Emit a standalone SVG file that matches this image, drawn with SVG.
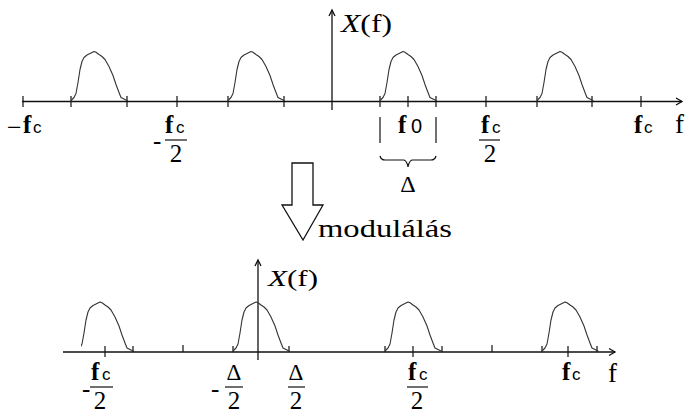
<svg xmlns="http://www.w3.org/2000/svg" width="685" height="414" viewBox="0 0 685 414">
<style>
.ax{stroke:#111;stroke-width:1.3;fill:none}
.tk{stroke:#111;stroke-width:1.2;fill:none}
.bump{stroke:#333;stroke-width:1.1;fill:none;stroke-linejoin:round;stroke-linecap:round}
.t{font-family:"Times New Roman","Liberation Serif",serif;fill:#000}
.fb{font-weight:bold;font-size:25px}
.fr{font-size:25px}
.sub{font-family:Arial,"Liberation Sans",sans-serif;font-size:17px;fill:#000}
.sub0{font-family:Arial,"Liberation Sans",sans-serif;font-size:20px;fill:#000}
</style>
<defs>
<path id="bump" d="M0,0 L1,-2 L3,-4 L5,-8 L7,-19 L9,-32 L11,-40 L13,-44 L16,-46.5 L19,-48 L21,-49 L23,-50 L25,-49.2 L28,-47 L31,-45 L34,-42 L38,-35 L42,-26 L45,-17 L48,-9 L50,-4 L53,-2.5 L56,-1"/>
<clipPath id="clipB1"><rect x="81" y="280" width="80" height="80"/></clipPath>
</defs>

<g id="top-plot">
  <g id="top-axes">
    <line class="ax" x1="22" y1="101.5" x2="682" y2="101.5"/>
    <polyline class="ax" points="676,98 682,101.5 676,105"/>
    <line class="ax" x1="332" y1="110" x2="332" y2="10"/>
    <polyline class="ax" points="329,16 332,10 335,16"/>
    <path class="tk" d="M23,96V107M71,96V107M127,96V107M177,96V107M228,96V107M284,96V107M380,96V107M408,96V107M436,96V107M486,96V107M537,96V107M592,96V107M641,96V107"/>
  </g>
  <g id="top-bumps">
    <use href="#bump" class="bump" transform="translate(71,101.5)"/>
    <use href="#bump" class="bump" transform="translate(228,101.5)"/>
    <use href="#bump" class="bump" transform="translate(380,101.5)"/>
    <use href="#bump" class="bump" transform="translate(537,101.5)"/>
  </g>
  <g id="top-labels">
    <text class="t" x="341" y="32" font-size="25" textLength="51" lengthAdjust="spacingAndGlyphs"><tspan font-style="italic">X</tspan>(f)</text>
    <text class="t" x="7" y="136" font-size="26">−</text>
    <text class="t fb" x="23" y="133">f</text><text class="sub" x="33" y="133">c</text>
    <text class="t fr" x="153" y="149">-</text>
    <text class="t fb" x="165" y="133">f</text><text class="sub" x="176" y="133">c</text>
    <line class="tk" x1="165" y1="140" x2="187" y2="140"/>
    <text class="t fr" x="176" y="162" text-anchor="middle">2</text>
    <text class="t fb" x="398" y="133">f</text><text class="sub0" x="411" y="133">0</text>
    <text class="t fb" x="481" y="133">f</text><text class="sub" x="492" y="133">c</text>
    <line class="tk" x1="479" y1="140" x2="500" y2="140"/>
    <text class="t fr" x="490" y="162" text-anchor="middle">2</text>
    <text class="t fb" x="634" y="133">f</text><text class="sub" x="644" y="133">c</text>
    <text class="t" x="675" y="133" font-size="27">f</text>
  </g>
  <g id="delta-brace">
    <line class="tk" x1="380" y1="117" x2="380" y2="143"/>
    <line class="tk" x1="436" y1="117" x2="436" y2="143"/>
    <path class="tk" d="M380,156 Q381,160 385,160 L404,160 Q407,161 408,167 Q409,161 412,160 L431,160 Q435,160 436,156"/>
    <text class="t" x="408" y="192" font-size="24" text-anchor="middle">Δ</text>
  </g>
</g>

<g id="modulation">
  <polygon class="ax" points="292,163 313,163 313,205 323,205 303,240 282,205 292,205"/>
  <text class="t" x="318" y="237" font-size="26" textLength="134" lengthAdjust="spacingAndGlyphs">modulálás</text>
</g>

<g id="bottom-plot">
  <g id="bottom-axes">
    <line class="ax" x1="63" y1="352" x2="615" y2="352"/>
    <polyline class="ax" points="609,348.5 615,352 609,355.5"/>
    <line class="ax" x1="258" y1="360" x2="258" y2="260"/>
    <polyline class="ax" points="255,266 258,260 261,266"/>
    <path class="tk" d="M105,346V357M413,346V357M568,346V357M183,345V352M492,345V352M133,346V352M233,346V352M289,346V352M385,346V352M442,346V352M542,346V352M597,346V352"/>
  </g>
  <g id="bottom-bumps">
    <g clip-path="url(#clipB1)"><use href="#bump" class="bump" transform="translate(77,352)"/></g>
    <use href="#bump" class="bump" transform="translate(233,352)"/>
    <use href="#bump" class="bump" transform="translate(385,352)"/>
    <use href="#bump" class="bump" transform="translate(542,352)"/>
  </g>
  <g id="bottom-labels">
    <text class="t" x="268" y="286" font-size="24" textLength="50" lengthAdjust="spacingAndGlyphs"><tspan font-style="italic">X</tspan>(f)</text>
    <text class="t fr" x="82" y="397">-</text>
    <text class="t fb" x="91" y="380">f</text><text class="sub" x="102" y="380">c</text>
    <line class="tk" x1="90" y1="387" x2="113" y2="387"/>
    <text class="t fr" x="100" y="409" text-anchor="middle">2</text>
    <text class="t fr" x="211" y="397">-</text>
    <text class="t" x="234" y="380" font-size="23" text-anchor="middle">Δ</text>
    <line class="tk" x1="225" y1="387" x2="243" y2="387"/>
    <text class="t fr" x="234" y="409" text-anchor="middle">2</text>
    <text class="t" x="296" y="380" font-size="23" text-anchor="middle">Δ</text>
    <line class="tk" x1="288" y1="387" x2="305" y2="387"/>
    <text class="t fr" x="296" y="409" text-anchor="middle">2</text>
    <text class="t fb" x="408" y="380">f</text><text class="sub" x="419" y="380">c</text>
    <line class="tk" x1="407" y1="387" x2="428" y2="387"/>
    <text class="t fr" x="417" y="409" text-anchor="middle">2</text>
    <text class="t fb" x="562" y="380">f</text><text class="sub" x="572" y="380">c</text>
    <text class="t" x="608" y="382" font-size="27">f</text>
  </g>
</g>
</svg>
